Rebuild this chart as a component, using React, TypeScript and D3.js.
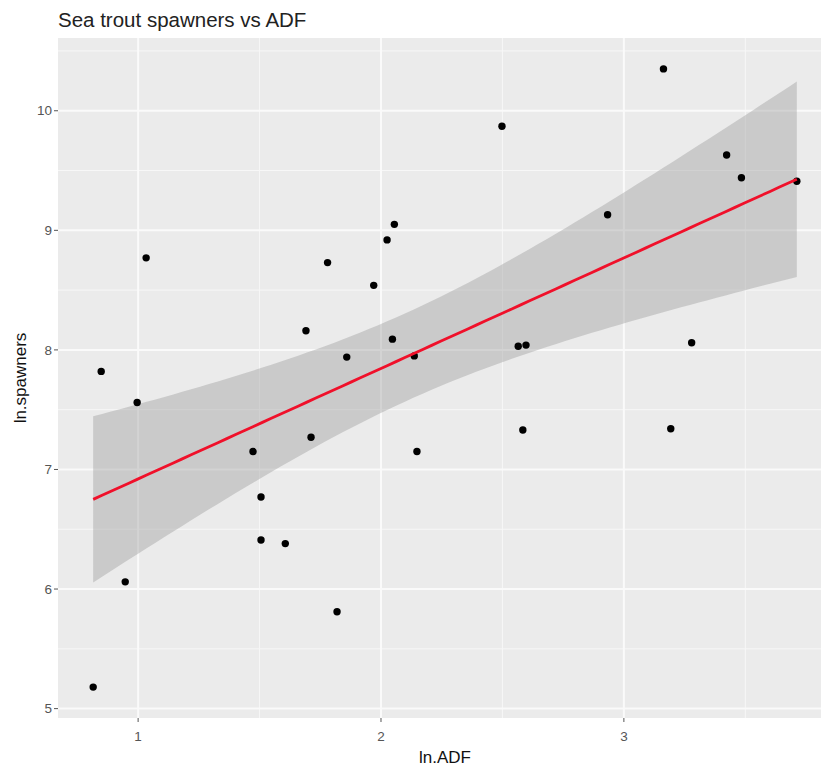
import React, { useMemo } from 'react';
import * as d3 from 'd3';

// ln.ADF values
const lnADF = [
  0.815, 0.848, 0.947, 0.996, 1.033, 1.473, 1.712, 1.506, 1.506, 1.606, 1.819,
  2.055, 2.025, 1.78, 1.97, 1.691, 2.047, 1.859, 2.137, 2.565, 2.597, 2.148,
  2.498, 2.584, 3.163, 3.423, 3.484, 3.712, 2.933, 3.279, 3.193,
];
// ln.spawners values, same order
const lnSpawners = [
  5.18, 7.82, 6.06, 7.56, 8.77, 7.15, 7.27, 6.77, 6.41, 6.38, 5.81,
  9.05, 8.92, 8.73, 8.54, 8.16, 8.09, 7.94, 7.95, 8.03, 8.04, 7.15,
  9.87, 7.33, 10.35, 9.63, 9.44, 9.41, 9.13, 8.06, 7.34,
];
const xTicks = [1, 2, 3];
const yTicks = [5, 6, 7, 8, 9, 10];

const T_975 = 2.045; // t quantile, df = 29

export default function App() {
  const width = 821;
  const height = 767;
  const MARGIN = { top: 38, left: 58, right: 832, bottom: 718 };

  const data = lnADF.map((x, i) => ({ x, y: lnSpawners[i] }));

  const xScale = useMemo(() => {
    const [min, max] = d3.extent(lnADF) as [number, number];
    const pad = (max - min) * 0.05;
    return d3.scaleLinear().domain([min - pad, max + pad]).range([MARGIN.left, MARGIN.right]);
  }, []);

  const yScale = useMemo(() => {
    const [min, max] = d3.extent(lnSpawners) as [number, number];
    const pad = (max - min) * 0.05;
    return d3.scaleLinear().domain([min - pad, max + pad]).range([MARGIN.bottom, MARGIN.top]);
  }, []);

  // linear fit + 95% confidence band (like geom_smooth(method = "lm"))
  const fit = useMemo(() => {
    const n = data.length;
    const mx = d3.mean(lnADF) as number;
    const my = d3.mean(lnSpawners) as number;
    const sxx = d3.sum(lnADF, (x) => (x - mx) ** 2);
    const sxy = d3.sum(data, (d) => (d.x - mx) * (d.y - my));
    const b = sxy / sxx;
    const a = my - b * mx;
    const sse = d3.sum(data, (d) => (d.y - a - b * d.x) ** 2);
    const s = Math.sqrt(sse / (n - 2));
    const [min, max] = d3.extent(lnADF) as [number, number];
    const pts = d3.range(80).map((i) => {
      const x = min + ((max - min) * i) / 79;
      const yh = a + b * x;
      const se = s * Math.sqrt(1 / n + (x - mx) ** 2 / sxx);
      return { x, y: yh, lo: yh - T_975 * se, hi: yh + T_975 * se };
    });
    return pts;
  }, []);

  const area = d3
    .area<{ x: number; lo: number; hi: number }>()
    .x((d) => xScale(d.x))
    .y0((d) => yScale(d.lo))
    .y1((d) => yScale(d.hi));
  const line = d3
    .line<{ x: number; y: number }>()
    .x((d) => xScale(d.x))
    .y((d) => yScale(d.y));

  const [x0, x1] = xScale.domain();
  const [y0, y1] = yScale.domain();
  const xMinor = d3.range(Math.ceil(x0 * 2) / 2, x1, 0.5).filter((v) => v % 1 !== 0);
  const yMinor = d3.range(Math.ceil(y0 * 2) / 2, y1, 0.5).filter((v) => v % 1 !== 0);

  const font = '"Liberation Sans", Arial, sans-serif';

  return (
    <svg
      width={width}
      height={height}
      style={{ position: 'absolute', left: 0, top: 0, background: '#fff' }}
      fontFamily={font}
    >
      <rect
        x={MARGIN.left}
        y={MARGIN.top}
        width={MARGIN.right - MARGIN.left}
        height={MARGIN.bottom - MARGIN.top}
        fill="#EBEBEB"
      />
      {/* minor grid */}
      {xMinor.map((v, i) => (
        <line key={'xm' + i} x1={xScale(v)} x2={xScale(v)} y1={MARGIN.top} y2={MARGIN.bottom} stroke="#F7F7F7" strokeWidth={1} />
      ))}
      {yMinor.map((v, i) => (
        <line key={'ym' + i} y1={yScale(v)} y2={yScale(v)} x1={MARGIN.left} x2={MARGIN.right} stroke="#F7F7F7" strokeWidth={1} />
      ))}
      {/* major grid */}
      {xTicks.map((v, i) => (
        <line key={'xg' + i} x1={xScale(v)} x2={xScale(v)} y1={MARGIN.top} y2={MARGIN.bottom} stroke="#FAFAFA" strokeWidth={2} />
      ))}
      {yTicks.map((v, i) => (
        <line key={'yg' + i} y1={yScale(v)} y2={yScale(v)} x1={MARGIN.left} x2={MARGIN.right} stroke="#FAFAFA" strokeWidth={2} />
      ))}

      <path d={area(fit) ?? ''} fill="#999999" fillOpacity={0.4} />

      {data.map((d, i) => (
        <circle key={i} cx={xScale(d.x)} cy={yScale(d.y)} r={3.7} fill="#000" />
      ))}

      <path d={line(fit) ?? ''} fill="none" stroke="#F0102A" strokeWidth={2.8} />

      {/* axes ticks + labels */}
      {xTicks.map((v, i) => (
        <g key={'xt' + i}>
          <line x1={xScale(v)} x2={xScale(v)} y1={MARGIN.bottom} y2={MARGIN.bottom + 4} stroke="#555" strokeWidth={1} />
          <text x={xScale(v)} y={MARGIN.bottom + 23} textAnchor="middle" fontSize={13.5} fill="#555">
            {v}
          </text>
        </g>
      ))}
      {yTicks.map((v, i) => (
        <g key={'yt' + i}>
          <line x1={MARGIN.left - 4} x2={MARGIN.left} y1={yScale(v)} y2={yScale(v)} stroke="#555" strokeWidth={1} />
          <text x={MARGIN.left - 6} y={yScale(v)} dy="0.35em" textAnchor="end" fontSize={13.5} fill="#555">
            {v}
          </text>
        </g>
      ))}

      <text x={(MARGIN.left + MARGIN.right) / 2} y={763} textAnchor="middle" fontSize={17} fill="#111">
        ln.ADF
      </text>
      <text
        transform={`translate(26,${(MARGIN.top + MARGIN.bottom) / 2}) rotate(-90)`}
        textAnchor="middle"
        fontSize={17}
        fill="#111"
      >
        ln.spawners
      </text>
      <text x={MARGIN.left} y={27} fontSize={20.5} fill="#222">
        Sea trout spawners vs ADF
      </text>
    </svg>
  );
}
